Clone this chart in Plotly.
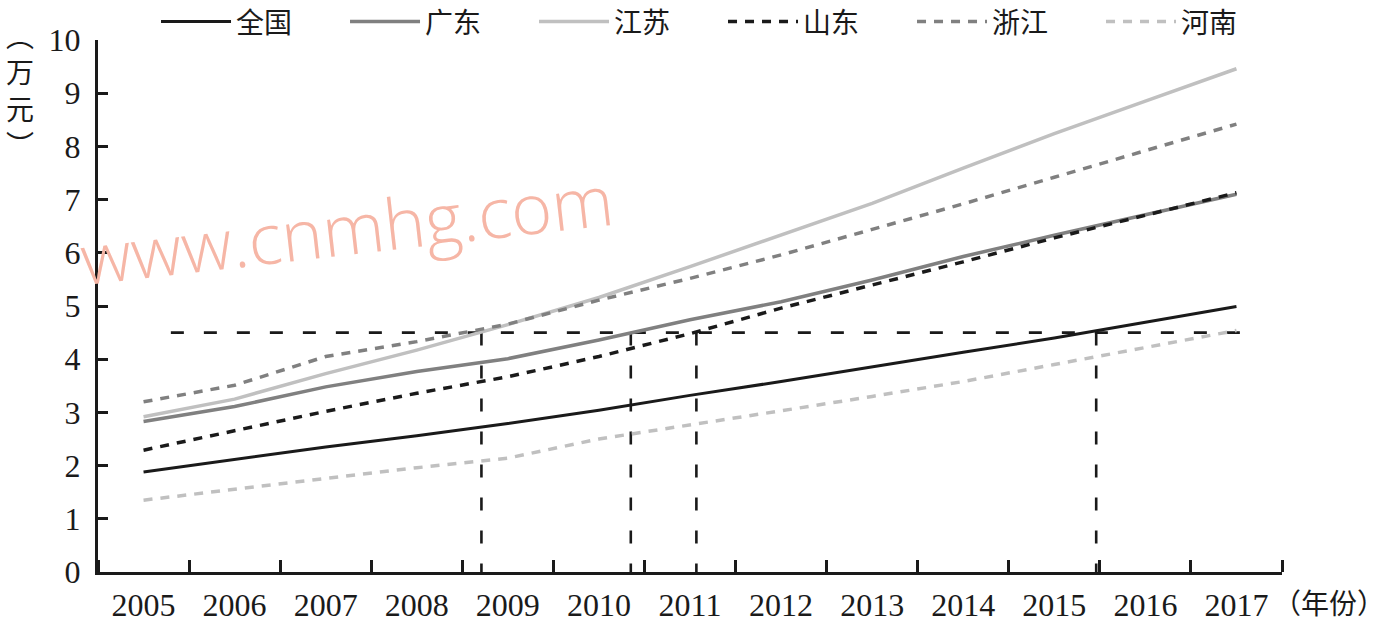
import plotly.graph_objects as go

# ---- data ----
years = [2005, 2006, 2007, 2008, 2009, 2010, 2011, 2012, 2013, 2014, 2015, 2016, 2017]
year_labels = [str(y) for y in years]
national = [1.88, 2.11, 2.35, 2.56, 2.79, 3.04, 3.32, 3.58, 3.86, 4.13, 4.40, 4.69, 4.99]
guangdong = [2.83, 3.11, 3.48, 3.77, 4.01, 4.36, 4.74, 5.08, 5.49, 5.93, 6.33, 6.72, 7.10]
jiangsu = [2.92, 3.25, 3.73, 4.17, 4.65, 5.16, 5.74, 6.33, 6.93, 7.59, 8.24, 8.85, 9.46]
shandong = [2.29, 2.65, 3.02, 3.36, 3.67, 4.05, 4.48, 4.96, 5.39, 5.83, 6.28, 6.70, 7.13]
zhejiang = [3.20, 3.51, 4.05, 4.33, 4.66, 5.11, 5.52, 5.96, 6.44, 6.92, 7.42, 7.92, 8.42]
henan = [1.35, 1.56, 1.76, 1.96, 2.14, 2.50, 2.76, 3.03, 3.30, 3.58, 3.90, 4.22, 4.54]

ref_level = 4.5
ref_start, ref_end = 2005.3, 2017.07
cross_years = [2008.71, 2010.35, 2011.07, 2015.46]

series = [
    ("全国", national, "#1a1a1a", "solid", 3),
    ("广东", guangdong, "#808080", "solid", 3.5),
    ("江苏", jiangsu, "#c0c0c0", "solid", 3.5),
    ("山东", shandong, "#1a1a1a", "9px,8px", 3.5),
    ("浙江", zhejiang, "#808080", "9px,8px", 3.5),
    ("河南", henan, "#c0c0c0", "9px,8px", 3.5),
]

NUM_FONT = "Liberation Serif, Noto Sans CJK SC, serif"
CJK_FONT = "Noto Sans CJK SC, Liberation Serif, sans-serif"

fig = go.Figure()

# reference dashed guide lines
rx, ry = [ref_start, ref_end], [ref_level, ref_level]
for cx in cross_years:
    rx += [None, cx, cx]
    ry += [None, ref_level, 0]
fig.add_trace(go.Scatter(x=rx, y=ry, mode="lines", showlegend=False, hoverinfo="skip",
                         line=dict(color="#1a1a1a", width=2.6, dash="13px,20px")))

for name, vals, color, dash, width in series:
    fig.add_trace(go.Scatter(x=years, y=vals, mode="lines", name=name,
                             line=dict(color=color, width=width, dash=dash)))

boundaries = [y - 0.5 for y in years] + [years[-1] + 0.5]

fig.update_layout(
    width=1393, height=622,
    margin=dict(l=98, r=111, t=40, b=50, autoexpand=False),
    paper_bgcolor="white", plot_bgcolor="white",
    showlegend=True,
    legend=dict(orientation="h", xref="container", yref="paper",
                x=0.112, xanchor="left", y=1.034, yanchor="middle",
                font=dict(family=CJK_FONT, size=28, color="#1a1a1a"),
                itemwidth=70, entrywidth=104, entrywidthmode="pixels",
                bgcolor="rgba(0,0,0,0)", tracegroupgap=0),
    xaxis=dict(range=[2004.5, 2017.5], tickmode="array", tickvals=years, ticktext=year_labels,
               ticks="", showgrid=False, zeroline=False, ticklabelstandoff=3,
               showline=True, linecolor="#1a1a1a", linewidth=3,
               tickfont=dict(family=NUM_FONT, size=32, color="#1a1a1a"),
               minor=dict(tickmode="array", tickvals=boundaries, ticks="inside",
                          ticklen=12, tickwidth=3, tickcolor="#1a1a1a", showgrid=False)),
    yaxis=dict(range=[0, 10], tickmode="linear", tick0=0, dtick=1,
               ticks="inside", ticklen=10, tickwidth=3, tickcolor="#1a1a1a",
               showgrid=False, zeroline=False,
               showline=True, linecolor="#1a1a1a", linewidth=3,
               ticklabelstandoff=8,
               tickfont=dict(family=NUM_FONT, size=32, color="#1a1a1a")),
)

# axis unit labels
fig.add_annotation(xref="paper", yref="paper", x=1.0, y=0, xanchor="left", yanchor="middle",
                   xshift=-10, yshift=-30, borderpad=0, text="（年份）", showarrow=False,
                   font=dict(family=CJK_FONT, size=28, color="#1a1a1a"))
fig.add_annotation(xref="paper", yref="paper", x=0, y=1.05, xanchor="center", yanchor="top",
                   xshift=-78, text="︵<br>万<br>元<br>︶", showarrow=False,
                   font=dict(family=CJK_FONT, size=28, color="#1a1a1a"))

# watermark
fig.add_annotation(xref="paper", yref="paper", x=0.21, y=0.646, xanchor="center", yanchor="middle",
                   text="www.cnmhg.com", showarrow=False, textangle=-6.5,
                   font=dict(family="Open Sans", size=70, color="#f6b6a6", weight=300))

fig.write_html("out.html", config={"displayModeBar": False},
               post_script="document.body.style.margin='0';document.body.style.overflow='hidden';")
